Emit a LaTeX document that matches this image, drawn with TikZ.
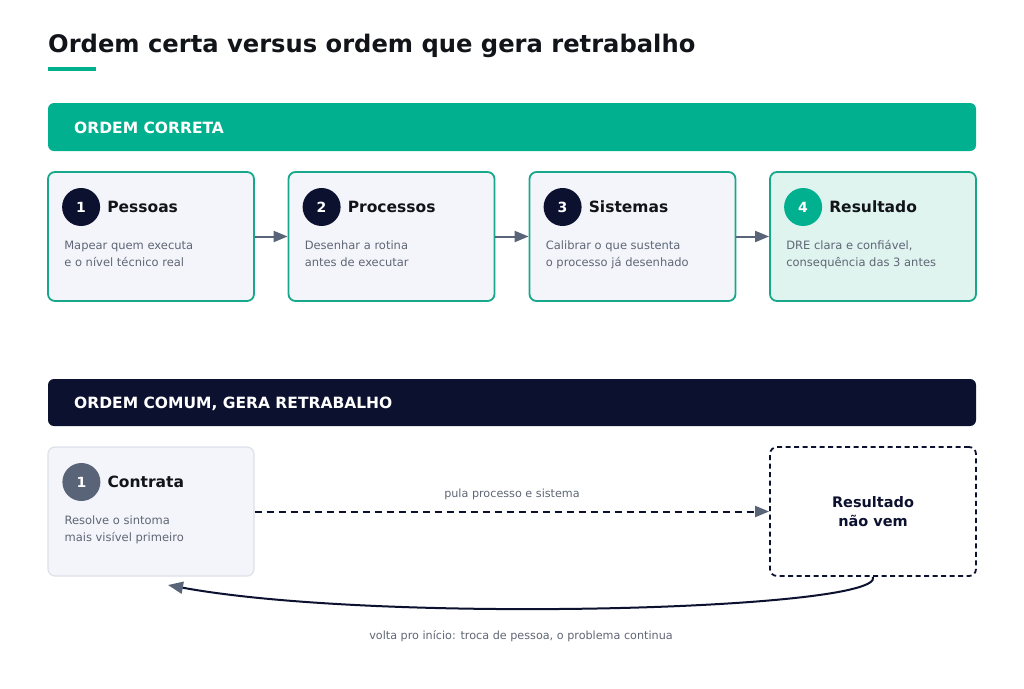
\documentclass[tikz,border=0pt]{standalone}
\usepackage{fontspec}
\setmainfont{DejaVu Sans}
\usetikzlibrary{arrows.meta}
\definecolor{teal}{HTML}{00B08F}
\definecolor{tealborder}{HTML}{17A88B}
\definecolor{navy}{HTML}{0D1130}
\definecolor{slate}{HTML}{5A6478}
\definecolor{boxfill}{HTML}{F3F5FA}
\definecolor{resfill}{HTML}{DFF3EF}
\definecolor{desc}{HTML}{5F6675}
\definecolor{lightborder}{HTML}{DDE1EA}
\definecolor{titlecol}{HTML}{111418}
\tikzset{
  banner/.style={fill=#1, rounded corners=6pt, draw=none},
  stepbox/.style={draw=tealborder, line width=1.8pt, fill=boxfill, rounded corners=7pt, minimum width=206pt, minimum height=129pt, inner sep=0pt},
  num/.style={circle, fill=navy, minimum size=38pt, inner sep=0pt, text=white, font=\bfseries\fontsize{14}{16}\selectfont},
  steptitle/.style={anchor=west, inner sep=0pt, text=titlecol, font=\bfseries\fontsize{15.5}{18}\selectfont},
  stepdesc/.style={anchor=north west, inner sep=0pt, text=desc, align=left, font=\fontsize{11.5}{17}\selectfont},
  flow/.style={draw=slate, line width=2pt, -{Triangle[length=14pt,width=11pt]}},
  note/.style={text=desc, font=\fontsize{11.2}{13}\selectfont, inner sep=0pt},
  bannertext/.style={anchor=west, inner sep=0pt, text=white, font=\bfseries\fontsize{15.5}{18}\selectfont},
}
\begin{document}
\begin{tikzpicture}[x=1pt,y=-1pt]
\useasboundingbox[fill=white] (0,0) rectangle (1024,688);
% title
\node[anchor=base west, inner sep=0pt, text=titlecol, font=\bfseries\fontsize{24.2}{28}\selectfont] (title) at (48,52) {Ordem certa versus ordem que gera retrabalho};
\fill[teal] (48,67) rectangle (96,71);
% top banner
\path[banner=teal] (48,103) rectangle (976,151);
\node[bannertext] (b1) at (74,128) {ORDEM CORRETA};
% top boxes
\node[stepbox] (s1) at (151,236.5) {};
\node[stepbox] (s2) at (391.5,236.5) {};
\node[stepbox] (s3) at (632.5,236.5) {};
\node[stepbox, fill=resfill] (s4) at (873,236.5) {};
\foreach \i/\t/\da/\db/\c in {1/Pessoas/{Mapear quem executa}/{e o nível técnico real}/navy,
  2/Processos/{Desenhar a rotina}/{antes de executar}/navy,
  3/Sistemas/{Calibrar o que sustenta}/{o processo já desenhado}/navy,
  4/Resultado/{DRE clara e confiável,}/{consequência das 3 antes}/teal}{
  \node[num, fill=\c] (n\i) at ([xshift=34pt,yshift=29.5pt]s\i.west) {\i};
  \node[steptitle] (t\i) at ([xshift=60pt,yshift=29.5pt]s\i.west) {\t};
  \node[stepdesc] (d\i) at ([xshift=17pt,yshift=-4pt]s\i.west) {\da\\\db};
}
\draw[flow] (s1.east) -- (s2.west);
\draw[flow] (s2.east) -- (s3.west);
\draw[flow] (s3.east) -- (s4.west);
% bottom banner
\path[banner=navy] (48,379) rectangle (976,426);
\node[bannertext] (b2) at (74,404) {ORDEM COMUM, GERA RETRABALHO};
% bottom boxes
\node[stepbox, draw=lightborder, line width=1.2pt] (c1) at (151,511.5) {};
\node[num, fill=slate] (cn) at ([xshift=34pt,yshift=29.5pt]c1.west) {1};
\node[steptitle] (ct) at ([xshift=60pt,yshift=29.5pt]c1.west) {Contrata};
\node[stepdesc] (cd) at ([xshift=17pt,yshift=-4pt]c1.west) {Resolve o sintoma\\mais visível primeiro};
\node[stepbox, draw=navy, fill=white, line width=1.8pt, dash pattern=on 5pt off 3.5pt, text=navy, align=center, font=\bfseries\fontsize{14.5}{19}\selectfont] (r) at (873,511.5) {Resultado\\não vem};
\draw[flow, draw=navy, dash pattern=on 7pt off 5pt, -{Triangle[length=14pt,width=11pt,color=slate,fill=slate]}] (c1.east) -- (r.west);
\node[note] (l1) at (512,494.5) {pula processo e sistema};
\coordinate (back) at (168,585);
\draw[draw=navy, line width=2pt, -{Triangle[length=15pt,width=12pt,color=slate,fill=slate]}] (r.south) .. controls (885,610) and (380,624) .. (back);
\node[note] (l2) at (521,636) {volta pro início: troca de pessoa, o problema continua};
\end{tikzpicture}
\end{document}
